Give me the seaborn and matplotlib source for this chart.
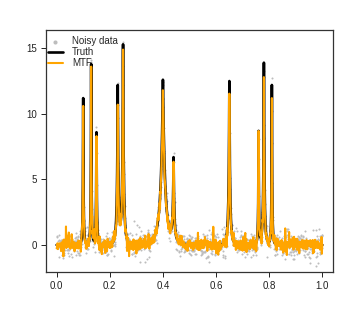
import numpy as np
import pandas as pd
import matplotlib
matplotlib.use("Agg")
import matplotlib.pyplot as plt
import seaborn as sns

# Bump locations, widths, and peak heights
bump_loc = [0.10, 0.13, 0.15, 0.23, 0.25, 0.40, 0.44, 0.65, 0.76, 0.78, 0.81]
bump_width = [0.005, 0.005, 0.006, 0.01, 0.01, 0.03, 0.01, 0.01, 0.005, 0.008, 0.005]
truth_peaks = [11.2, 13.8, 8.6, 12.2, 15.3, 12.6, 6.7, 12.5, 8.7, 13.9, 12.2]
mtf_peaks = [10.6, 13.6, 8.3, 10.7, 14.9, 11.8, 6.35, 11.3, 8.7, 12.8, 11.2]
x_ticks = [0.0, 0.2, 0.4, 0.6, 0.8, 1.0]
y_ticks = [0, 5, 10, 15]
n_points = 1024
noise_sd = 0.5
mtf_noise_sd = 0.22

loc = np.array(bump_loc)
wid = np.array(bump_width)
x = np.unique(np.concatenate([np.linspace(0, 1, n_points), loc]))
n = len(x)

def kernel(xx):
    return (1 + np.abs(xx[:, None] - loc[None, :]) / wid[None, :]) ** -4

K = kernel(loc)
h_truth = np.linalg.solve(K, np.array(truth_peaks))
h_mtf = np.linalg.solve(K, np.array(mtf_peaks))
truth = kernel(x) @ h_truth
mtf_clean = kernel(x) @ h_mtf

# measurement noise (not readable point by point from the picture)
rng = np.random.default_rng(11)
noisy = truth + rng.normal(0, noise_sd, n)
mtf = mtf_clean + rng.normal(0, mtf_noise_sd, n) * (1 + 1.2 * (rng.random(n) > 0.88))
is_peak = np.isin(x, loc)
mtf[is_peak] = mtf_clean[is_peak]

df = pd.DataFrame({"x": x, "noisy": noisy, "truth": truth, "mtf": mtf})

sns.set_style("ticks")
plt.rcParams["font.family"] = ["Liberation Sans", "DejaVu Sans"]

fig = plt.figure(figsize=(3.47, 3.16), dpi=100)
ax = fig.add_axes([46 / 347, 1 - 272 / 316, (333 - 46) / 347, (272 - 29.5) / 316])

sns.scatterplot(data=df, x="x", y="noisy", ax=ax, color="#bdbdbd", s=2.2,
                linewidth=0, label="Noisy data", zorder=1)
sns.lineplot(data=df, x="x", y="truth", ax=ax, color="black", linewidth=1.9,
             label="Truth", estimator=None, sort=False, zorder=2)
sns.lineplot(data=df, x="x", y="mtf", ax=ax, color="#FFA500", linewidth=1.5,
             label="MTF", estimator=None, sort=False, zorder=3)

ax.set_xlim(-0.04, 1.04)
ax.set_ylim(-2.06, 16.43)
ax.set_xticks(x_ticks)
ax.set_xticklabels([f"{v:.1f}" for v in x_ticks])
ax.set_yticks(y_ticks)
ax.set_xlabel("")
ax.set_ylabel("")
for s in ax.spines.values():
    s.set_visible(True)
    s.set_color("#333333")
    s.set_linewidth(0.9)
ax.tick_params(axis="both", direction="out", length=3.5, width=0.7,
               labelsize=7, colors="#222222", pad=3)

leg = ax.legend(loc="upper left", bbox_to_anchor=(0, 0.98), frameon=False,
                fontsize=7, handlelength=1.55, handletextpad=0.9,
                borderaxespad=0, borderpad=0.2, labelspacing=0.1,
                markerscale=2.0)

fig.savefig("out.png", dpi=100)
